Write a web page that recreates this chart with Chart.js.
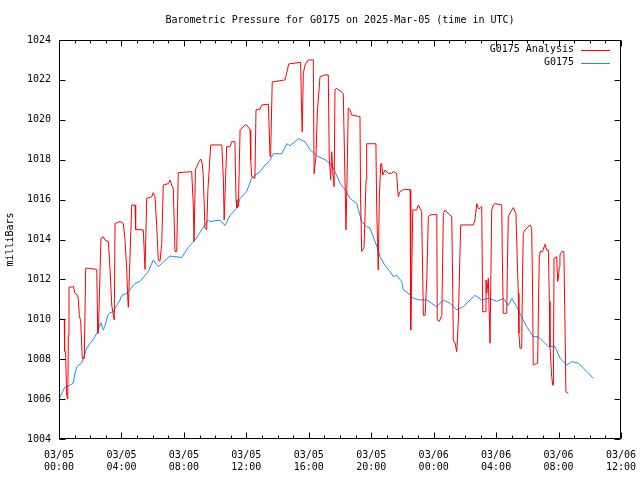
<!DOCTYPE html>
<html>
<head>
<meta charset="utf-8">
<script src="https://cdn.jsdelivr.net/npm/chart.js@4"></script>
<style>
body { margin: 0; background: #fff; }
</style>
</head>
<body>
<canvas id="pressureChart" width="640" height="480"></canvas>
<script>
// hours since 03/05 00:00 UTC
var analysisTime = [0, 0.34, 0.36, 0.42, 0.49, 0.56, 0.60, 0.64, 0.92, 1.02, 1.20, 1.24, 1.30, 1.39, 1.49, 1.62, 1.71, 1.88, 2.42, 2.48, 2.52,
    2.69, 2.84, 2.95, 3.16, 3.27, 3.38, 3.48, 3.54, 3.59, 3.91, 4.12, 4.23, 4.34, 4.40, 4.44, 4.66, 4.87, 4.91, 5.40, 5.51,
    5.62, 5.94, 6.04, 6.15, 6.26, 6.36, 6.47, 6.58, 6.68, 7.00, 7.11, 7.22, 7.32, 7.43, 7.54, 7.64, 8.50, 8.60, 8.65, 8.71,
    8.74, 8.82, 8.97, 9.08, 9.18, 9.24, 9.35, 9.46, 9.54, 9.72, 10.43, 10.53, 10.58, 10.63, 10.74, 10.95, 11.06, 11.27, 11.34,
    11.40, 11.49, 11.60, 11.92, 12.02, 12.24, 12.28, 12.34, 12.55, 12.62, 12.88, 12.98, 13.41, 13.52, 13.56, 13.66, 14.48,
    14.63, 14.71, 15.48, 15.52, 15.58, 15.65, 15.76, 15.97, 16.29, 16.34, 16.46, 16.55, 16.72, 17.04, 17.25, 17.31, 17.40,
    17.47, 17.53, 17.62, 17.68, 17.79, 18.11, 18.21, 18.32, 18.38, 18.45, 18.53, 18.64, 18.75, 19.28, 19.32, 19.39, 19.54,
    19.67, 19.71, 20.30, 20.35, 20.45, 20.52, 20.61, 20.67, 20.74, 20.88, 21.10, 21.31, 21.42, 21.63, 21.67, 21.73, 21.84,
    22.06, 22.49, 22.53, 22.60, 22.66, 22.91, 23.02, 23.13, 23.23, 23.34, 23.45, 23.56, 23.66, 23.77, 24.20, 24.23, 24.36,
    24.52, 24.62, 24.73, 24.94, 25.16, 25.26, 25.37, 25.48, 25.58, 25.73, 26.54, 26.65, 26.76, 26.86, 26.97, 27.08, 27.14,
    27.29, 27.35, 27.40, 27.50, 27.61, 27.72, 27.82, 27.93, 28.36, 28.40, 28.46, 28.68, 28.72, 28.78, 28.94, 29.10, 29.27,
    29.32, 29.42, 29.46, 29.53, 29.64, 29.69, 29.74, 29.85, 30.06, 30.17, 30.28, 30.34, 30.38, 30.66, 30.72, 30.77, 30.81,
    30.98, 31.07, 31.13, 31.24, 31.35, 31.41, 31.45, 31.56, 31.63, 31.67, 31.71, 31.88, 31.94, 31.98, 32.05, 32.09, 32.20,
    32.34, 32.41, 32.47, 32.63];
var analysisValue = [1010.0, 1010.0, 1008.4, 1008.4, 1006.2, 1006.0, 1009.2, 1011.6, 1011.64, 1011.3, 1011.2, 1010.97, 1010.2, 1009.9, 1008.04, 1008.04, 1012.56, 1012.56, 1012.5, 1009.3, 1009.3,
    1014.06, 1014.14, 1013.97, 1013.9, 1012.47, 1010.7, 1010.2, 1009.97, 1014.8, 1014.9, 1014.8, 1013.97, 1012.47, 1011.1, 1010.6, 1015.73, 1015.73, 1014.5, 1014.48, 1012.5,
    1016.07, 1016.14, 1016.35, 1016.14, 1014.64, 1012.97, 1012.9, 1013.8, 1016.73, 1016.8, 1016.98, 1016.73, 1016.56, 1013.4, 1013.4, 1017.35, 1017.4, 1015.73, 1013.9, 1013.9,
    1017.5, 1017.65, 1017.9, 1018.04, 1017.8, 1017.2, 1014.56, 1014.5, 1016.5, 1018.74, 1018.74, 1016.98, 1014.98, 1014.98, 1018.65, 1018.65, 1018.9, 1018.9, 1016.0,
    1015.6, 1015.65, 1019.5, 1019.74, 1019.74, 1019.5, 1018.0, 1017.15, 1017.07, 1020.5, 1020.54, 1020.74, 1020.78, 1018.15, 1018.4, 1021.9, 1022.0,
    1022.5, 1022.8, 1022.88, 1021.08, 1019.4, 1022.33, 1022.75, 1023.0, 1023.0, 1017.3, 1018.15, 1020.4, 1022.16, 1022.25, 1022.25, 1018.15, 1016.98,
    1018.4, 1017.5, 1016.65, 1021.5, 1021.57, 1021.4, 1021.3, 1017.0, 1014.48, 1017.0, 1020.6, 1020.5, 1020.24, 1020.16, 1016.0, 1013.4, 1013.6,
    1017.0, 1018.8, 1018.8, 1015.65, 1012.47, 1016.15, 1017.8, 1017.8, 1017.23, 1017.48, 1017.32, 1017.32, 1017.4, 1017.32, 1016.82, 1016.15, 1016.4,
    1016.5, 1016.5, 1009.47, 1012.47, 1015.48, 1015.48, 1015.73, 1015.56, 1015.4, 1010.2, 1010.2, 1012.0, 1015.15, 1015.23, 1015.26, 1009.97, 1009.9,
    1010.2, 1015.3, 1015.48, 1015.3, 1015.15, 1008.96, 1008.8, 1008.38, 1009.97, 1014.73, 1014.73, 1014.98, 1015.8, 1015.56, 1015.56, 1015.65, 1010.38,
    1010.38, 1011.97, 1011.3, 1012.06, 1008.8, 1015.48, 1015.73, 1015.8, 1015.73, 1013.0, 1010.3, 1010.3, 1012.5, 1015.15, 1015.4, 1015.6, 1015.3,
    1013.97, 1011.3, 1009.3, 1008.55, 1008.55, 1012.0, 1014.3, 1014.48, 1014.64, 1014.73, 1014.56, 1011.13, 1007.71, 1007.8, 1011.0, 1013.22, 1013.39,
    1013.39, 1013.64, 1013.77, 1013.47, 1013.47, 1010.9, 1008.63, 1007.13, 1006.7, 1006.7, 1013.05, 1013.14, 1011.9, 1012.0, 1012.64, 1013.22, 1013.39,
    1013.39, 1009.88, 1006.37, 1006.29];

var obsTime = [0, 0.38, 0.70, 0.92, 1.02, 1.17, 1.45, 1.67, 1.77, 1.99, 2.20, 2.42, 2.52, 2.69, 2.84, 2.95, 3.12, 3.27, 3.48, 3.70, 3.91,
    4.02, 4.34, 4.87, 5.19, 5.51, 5.72, 6.04, 6.36, 6.58, 7.11, 7.86, 8.28, 8.71, 9.14, 9.56, 9.67, 10.31, 10.63, 10.95,
    11.38, 11.60, 12.02, 12.34, 12.88, 13.20, 13.52, 13.73, 14.27, 14.59, 14.80, 15.33, 15.76, 16.08, 16.51, 17.04, 17.47,
    17.68, 18.00, 18.32, 18.64, 19.07, 19.39, 19.71, 19.92, 20.45, 20.56, 20.88, 21.20, 21.42, 21.63, 21.95, 22.06, 22.38,
    22.70, 23.13, 23.56, 23.88, 24.20, 24.62, 25.05, 25.48, 25.90, 26.33, 26.65, 27.08, 27.50, 27.82, 28.04, 28.46, 28.78,
    29.00, 29.32, 29.53, 29.74, 29.96, 30.17, 30.38, 30.70, 31.02, 31.35, 31.77, 32.10, 32.52, 32.84, 33.27, 33.60, 33.92, 34.23];
var obsValue = [1006.0, 1006.6, 1006.7, 1006.8, 1007.3, 1007.65, 1007.8, 1008.3, 1008.55, 1008.8, 1009.0, 1009.3, 1009.5, 1009.83, 1009.46, 1009.66, 1010.2, 1010.33, 1010.38, 1010.7, 1010.97,
    1011.2, 1011.3, 1011.8, 1011.9, 1012.2, 1012.4, 1012.97, 1012.64, 1012.8, 1013.17, 1013.1, 1013.6, 1013.97, 1014.48, 1014.98, 1014.9, 1014.98, 1014.7, 1015.2,
    1015.56, 1016.06, 1016.4, 1017.07, 1017.4, 1017.73, 1017.98, 1018.3, 1018.3, 1018.8, 1018.7, 1019.05, 1018.9, 1018.5, 1018.2, 1018.0, 1017.73,
    1017.4, 1016.82, 1016.5, 1016.06, 1015.8, 1014.9, 1014.64, 1014.57, 1013.47, 1013.14, 1012.7, 1012.4, 1012.14, 1012.2, 1011.9, 1011.47, 1011.3,
    1011.05, 1010.97, 1010.97, 1010.8, 1010.63, 1010.97, 1010.8, 1010.47, 1010.63, 1010.97, 1011.2, 1010.97, 1011.05, 1010.97, 1010.9, 1011.05, 1010.7,
    1011.05, 1010.63, 1010.3, 1009.95, 1009.63, 1009.38, 1009.13, 1009.13, 1008.88, 1008.63, 1008.63, 1008.04, 1007.71, 1007.88, 1007.8, 1007.55, 1007.3, 1007.04];

var xTickLabels = [['03/05', '00:00'], ['03/05', '04:00'], ['03/05', '08:00'], ['03/05', '12:00'], ['03/05', '16:00'],
    ['03/05', '20:00'], ['03/06', '00:00'], ['03/06', '04:00'], ['03/06', '08:00'], ['03/06', '12:00']];

var monoFont = '"DejaVu Sans Mono", "Liberation Mono", monospace';

function toPoints(xs, ys) {
    var pts = [];
    for (var i = 0; i < xs.length; i++) pts.push({x: xs[i], y: ys[i]});
    return pts;
}

// gnuplot style frame with inward tics on all four sides, plus the key
var gnuFrame = {
    id: 'gnuFrame',
    afterDraw: function(chart) {
        var ctx = chart.ctx, a = chart.chartArea;
        var xs = chart.scales.x, ys = chart.scales.y;
        var L = Math.round(a.left) + 0.5, R = Math.round(a.right) - 0.5;
        var T = Math.round(a.top) + 0.5, B = Math.round(a.bottom) - 0.5;
        ctx.save();
        ctx.strokeStyle = '#000';
        ctx.lineWidth = 1;
        ctx.beginPath();
        ctx.rect(L, T, R - L, B - T);
        xs.ticks.forEach(function(t) {
            var px = Math.round(xs.getPixelForValue(t.value)) + 0.5;
            var len = (t.value % 4 === 0) ? 6 : 3;
            ctx.moveTo(px, B); ctx.lineTo(px, B - len);
            ctx.moveTo(px, T); ctx.lineTo(px, T + len);
        });
        ys.ticks.forEach(function(t) {
            var py = Math.round(ys.getPixelForValue(t.value)) + 0.5;
            ctx.moveTo(L, py); ctx.lineTo(L + 6, py);
            ctx.moveTo(R, py); ctx.lineTo(R - 6, py);
        });
        ctx.stroke();

        // key
        ctx.font = '10px ' + monoFont;
        ctx.fillStyle = '#000';
        ctx.textAlign = 'right';
        ctx.textBaseline = 'middle';
        chart.data.datasets.forEach(function(ds, i) {
            var y = 49.5 + i * 13;
            ctx.fillText(ds.label, 574, y);
            ctx.strokeStyle = ds.borderColor;
            ctx.beginPath();
            ctx.moveTo(581, Math.round(y) + 0.5);
            ctx.lineTo(610, Math.round(y) + 0.5);
            ctx.stroke();
        });
        ctx.restore();
    }
};

var ctx = document.getElementById('pressureChart').getContext('2d');
var pressureChart = new Chart(ctx, {
    type: 'line',
    data: {
        datasets: [{
            label: 'G0175 Analysis',
            data: toPoints(analysisTime, analysisValue),
            borderColor: '#ff0000',
            borderWidth: 1,
            pointRadius: 0,
            tension: 0
        }, {
            label: 'G0175',
            data: toPoints(obsTime, obsValue),
            borderColor: '#1a8cff',
            borderWidth: 1,
            pointRadius: 0,
            tension: 0
        }]
    },
    options: {
        responsive: false,
        animation: false,
        devicePixelRatio: 1,
        layout: { autoPadding: false, padding: { left: 0, right: 19, top: 0, bottom: 0 } },
        plugins: {
            legend: { display: false },
            tooltip: { enabled: false },
            title: {
                display: true,
                fullSize: false,
                text: 'Barometric Pressure for G0175 on 2025-Mar-05 (time in UTC)',
                color: '#000',
                font: { family: monoFont, size: 10, weight: 'normal', lineHeight: 1.2 },
                padding: { top: 14, bottom: 14 }
            }
        },
        scales: {
            x: {
                type: 'linear',
                min: 0,
                max: 36,
                grid: { display: false, drawTicks: false },
                border: { display: false },
                ticks: {
                    stepSize: 1,
                    autoSkip: false,
                    maxRotation: 0,
                    padding: 10,
                    color: '#000',
                    font: { family: monoFont, size: 10, lineHeight: 1.2 },
                    callback: function(v) {
                        return (v % 4 === 0) ? xTickLabels[v / 4] : '';
                    }
                },
                afterFit: function(scale) {
                    scale.height = 41;
                    scale.paddingLeft = 0;
                    scale.paddingRight = 19;
                }
            },
            y: {
                min: 1004,
                max: 1024,
                grid: { display: false, drawTicks: false },
                border: { display: false },
                ticks: {
                    stepSize: 2,
                    padding: 8,
                    color: '#000',
                    font: { family: monoFont, size: 10 },
                    callback: function(v) { return String(v); }
                },
                title: {
                    display: true,
                    text: 'milliBars',
                    color: '#000',
                    font: { family: monoFont, size: 10 },
                    padding: { top: 4, bottom: 0 }
                },
                afterFit: function(scale) { scale.width = 59; }
            }
        }
    },
    plugins: [gnuFrame]
});
</script>
</body>
</html>
